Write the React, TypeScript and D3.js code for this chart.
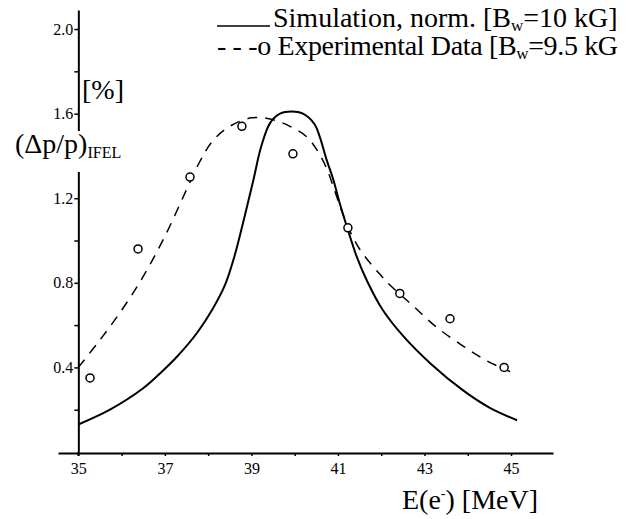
import React, { useEffect, useRef } from "react";
import * as d3 from "d3";

// Simulation curve (solid)
const simE = [35.0, 35.73, 36.49, 36.88, 37.3, 37.75, 38.1, 38.39, 38.6, 38.85, 39.05, 39.22, 39.43, 39.66, 39.93, 40.19, 40.46, 40.58, 40.74, 40.89, 41.05, 41.23, 41.44, 41.67, 42.04, 42.5, 43.13, 43.9, 44.5, 45.14];
const simV = [0.13, 0.2, 0.3, 0.37, 0.455, 0.565, 0.675, 0.79, 0.92, 1.12, 1.29, 1.44, 1.555, 1.6, 1.61, 1.6, 1.55, 1.49, 1.38, 1.29, 1.17, 1.05, 0.92, 0.81, 0.67, 0.55, 0.42, 0.29, 0.21, 0.15];

// Experimental fit curve (dashed)
const fitE = [35.0, 35.5, 36.0, 36.5, 37.0, 37.5, 37.8, 38.1, 38.5, 39.0, 39.43, 39.89, 40.28, 40.51, 40.74, 40.95, 41.2, 41.5, 41.97, 42.2, 42.74, 43.28, 43.9, 44.45, 44.98];
const fitV = [0.4, 0.53, 0.67, 0.83, 1.02, 1.24, 1.37, 1.47, 1.54, 1.58, 1.575, 1.54, 1.49, 1.43, 1.34, 1.22, 1.08, 0.96, 0.84, 0.79, 0.69, 0.59, 0.5, 0.43, 0.38];

// Experimental data points (circles)
const expE = [35.27, 36.38, 37.58, 38.78, 39.96, 41.23, 42.43, 43.59, 44.84];
const expV = [0.35, 0.96, 1.3, 1.54, 1.41, 1.06, 0.75, 0.63, 0.4];

const xTicks = [35, 36, 37, 38, 39, 40, 41, 42, 43, 44, 45];
const xTickLabels = [35, 37, 39, 41, 43, 45];
const yTicks = [0.2, 0.4, 0.6, 0.8, 1.0, 1.2, 1.4, 1.6, 1.8, 2.0];
const yTickLabels = [0.4, 0.8, 1.2, 1.6, 2.0];

const W = 629;
const H = 519;
const FONT = "'Liberation Serif', 'Times New Roman', serif";

export default function App() {
  const ref = useRef<SVGSVGElement>(null);

  useEffect(() => {
    const svg = d3.select(ref.current);
    svg.selectAll("*").remove();

    const x = d3.scaleLinear().domain([34.53, 45.97]).range([58, 553]);
    const y = d3.scaleLinear().domain([0, 2.09]).range([452, 10]);
    const x0 = x(35);
    const y0 = y(0);

    // X axis
    const xAxis = d3
      .axisBottom(x)
      .tickValues(xTicks)
      .tickSize(3)
      .tickSizeOuter(0)
      .tickFormat((d: any) => (xTickLabels.includes(+d) ? String(d) : ""));
    const gx = svg.append("g").attr("transform", `translate(0,${y0 + 1})`).call(xAxis);
    gx.select(".domain").attr("stroke", "#000").attr("stroke-width", 2);
    gx.selectAll(".tick line").attr("stroke", "#000").attr("stroke-width", 1.5);
    gx.selectAll(".tick text")
      .attr("font-family", FONT)
      .attr("font-size", 16)
      .attr("fill", "#000")
      .attr("dy", "0.95em");

    // Y axis
    const yAxis = d3
      .axisLeft(y)
      .tickValues(yTicks)
      .tickSize(4)
      .tickSizeOuter(0)
      .tickFormat((d: any) => (yTickLabels.some((v) => Math.abs(v - +d) < 1e-6) ? d3.format(".1f")(d) : ""));
    const gy = svg.append("g").attr("transform", `translate(${x0},0)`).call(yAxis);
    gy.select(".domain").attr("stroke", "#000").attr("stroke-width", 2);
    gy.selectAll(".tick line").attr("stroke", "#000").attr("stroke-width", 1.5);
    gy.selectAll(".tick text")
      .attr("font-family", FONT)
      .attr("font-size", 16)
      .attr("fill", "#000")
      .attr("x", -5);
    svg.append("line").attr("x1", x0).attr("x2", x0).attr("y1", y0).attr("y2", y0 + 4).attr("stroke", "#000").attr("stroke-width", 2);

    // Curves
    const line = d3
      .line<[number, number]>()
      .x((d) => x(d[0]))
      .y((d) => y(d[1]))
      .curve(d3.curveCatmullRom.alpha(0.5));

    const simData: [number, number][] = simE.map((e, i) => [e, simV[i]]);
    const fitData: [number, number][] = fitE.map((e, i) => [e, fitV[i]]);

    svg.append("path").attr("d", line(simData)).attr("fill", "none").attr("stroke", "#000").attr("stroke-width", 2);
    svg
      .append("path")
      .attr("d", line(fitData))
      .attr("fill", "none")
      .attr("stroke", "#000")
      .attr("stroke-width", 1.5)
      .attr("stroke-dasharray", "10,8");

    svg
      .selectAll("circle.exp")
      .data(expE.map((e, i) => [e, expV[i]]))
      .enter()
      .append("circle")
      .attr("class", "exp")
      .attr("cx", (d) => x(d[0]))
      .attr("cy", (d) => y(d[1]))
      .attr("r", 4)
      .attr("fill", "#fff")
      .attr("stroke", "#000")
      .attr("stroke-width", 1.5);

    // Y label with white background (breaks axis)
    svg.append("rect").attr("x", 12).attr("y", 131).attr("width", 112).attr("height", 41).attr("fill", "#fff");
    const yl = svg.append("text").attr("x", 15).attr("y", 153).attr("font-family", FONT).attr("font-size", 28).attr("fill", "#000");
    yl.append("tspan").text("(Δp/p)");
    yl.append("tspan").attr("dy", 5).attr("font-size", 16).text("IFEL");
    svg.append("text").attr("x", 82).attr("y", 99).attr("font-family", FONT).attr("font-size", 28).attr("fill", "#000").text("[%]");

    // X label
    const xl = svg.append("text").attr("x", 402).attr("y", 509).attr("font-family", FONT).attr("font-size", 28).attr("fill", "#000");
    xl.append("tspan").text("E(e");
    xl.append("tspan").attr("dy", -11).attr("font-size", 14).text("-");
    xl.append("tspan").attr("dy", 11).text(") [MeV]");

    // Legend
    svg.append("line").attr("x1", 217).attr("x2", 270).attr("y1", 26).attr("y2", 26).attr("stroke", "#000").attr("stroke-width", 1.5);
    const l1 = svg.append("text").attr("x", 273).attr("y", 27).attr("font-family", FONT).attr("font-size", 28).attr("fill", "#000");
    l1.append("tspan").text("Simulation, norm. [B");
    l1.append("tspan").attr("dy", 4).attr("font-size", 17).text("w");
    l1.append("tspan").attr("dy", -4).text("=10 kG]");

    const l2 = svg
      .append("text")
      .attr("x", 217)
      .attr("y", 55)
      .attr("font-family", FONT)
      .attr("font-size", 28)
      .attr("letter-spacing", -0.35)
      .attr("fill", "#000");
    l2.append("tspan").text("- - -o Experimental Data [B");
    l2.append("tspan").attr("dy", 4).attr("font-size", 17).text("w");
    l2.append("tspan").attr("dy", -4).text("=9.5 kG");
  }, []);

  return (
    <svg
      ref={ref}
      width={W}
      height={H}
      viewBox={`0 0 ${W} ${H}`}
      style={{ position: "absolute", left: 0, top: 0, background: "#fff" }}
    />
  );
}
